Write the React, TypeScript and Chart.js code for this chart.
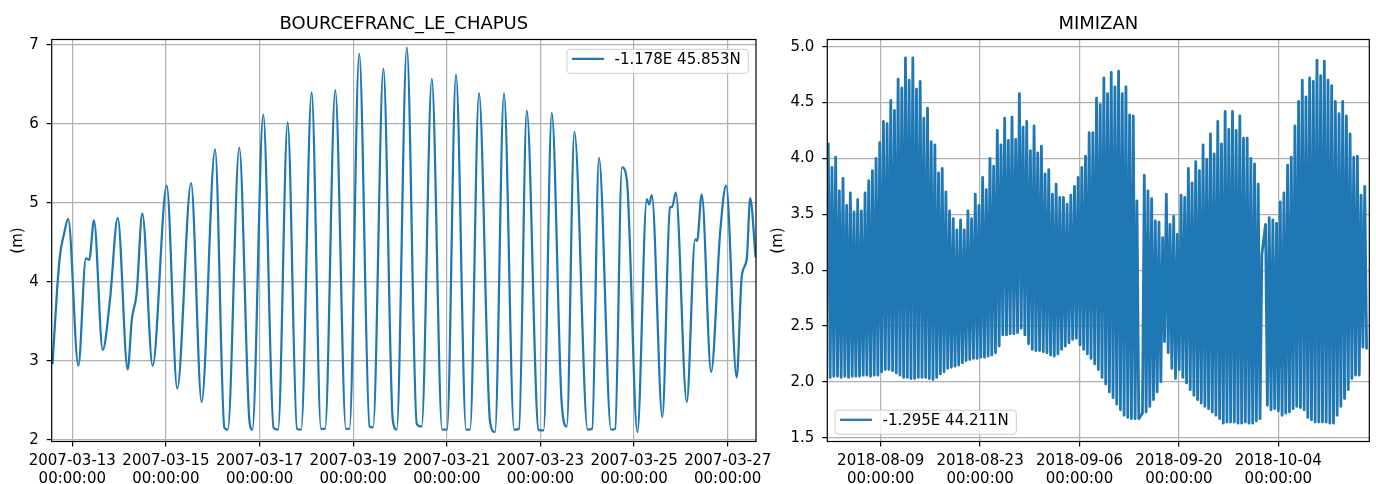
import React, { useEffect, useRef } from 'react';
import { Chart, registerables } from 'chart.js';

Chart.register(...registerables);

// ---------------- Left panel: BOURCEFRANC_LE_CHAPUS ----------------
const leftTitle = 'BOURCEFRANC_LE_CHAPUS';
const leftLegendLabel = '-1.178E 45.853N';
const leftStart = '2007-03-12T00:00:00Z';
// hours since 2007-03-12 00:00
const leftHours = [
  13.9, 16.2, 17.7, 19.7, 21.9, 27.1, 31.0, 32.7, 35.1, 39.6,
  43.3, 47.3, 52.4, 54.5, 57.0, 59.9, 65.2, 72.4, 77.8, 84.9,
  90.3, 97.2, 102.0, 103.7, 109.6, 114.9, 116.3, 121.9, 127.2, 129.5,
  134.4, 139.2, 141.3, 146.7, 151.5, 153.6, 158.8, 164.3, 166.1, 171.1,
  176.4, 178.2, 183.5, 188.3, 190.3, 195.5, 200.6, 203.1, 208.3, 213.6,
  216.1, 220.7, 225.9, 227.9, 232.5, 238.2, 240.7, 245.3, 250.5, 253.0,
  257.0, 263.0, 265.6, 269.8, 274.9, 277.5, 281.4, 288.2, 290.5, 294.0,
  300.2, 302.3, 305.8, 308.3, 313.7, 318.5, 319.7, 321.1, 326.5, 330.4,
  331.5, 333.4, 339.0, 343.3, 344.3, 346.7, 351.5, 356.1, 359.2, 364.6,
  367.2, 369.8, 371.5, 374.3,
];
const leftLevels = [
  2.97, 3.90, 4.34, 4.60, 4.80, 2.94, 4.30, 4.28, 4.78, 3.14,
  3.77, 4.81, 2.89, 3.52, 3.86, 4.87, 2.94, 5.22, 2.65, 5.25,
  2.48, 5.68, 2.15, 2.13, 5.70, 2.22, 2.13, 6.12, 2.15, 2.13,
  6.02, 2.14, 2.13, 6.40, 2.14, 2.14, 6.43, 2.14, 2.14, 6.89,
  2.17, 2.16, 6.70, 2.25, 2.13, 6.97, 2.20, 2.17, 6.57, 2.13,
  2.13, 6.63, 2.13, 2.13, 6.39, 2.22, 2.10, 6.39, 2.13, 2.14,
  6.17, 2.13, 2.12, 6.14, 2.46, 2.17, 5.90, 2.13, 2.14, 5.57,
  2.13, 2.14, 5.45, 5.29, 2.10, 5.05, 4.98, 5.10, 2.29, 4.94,
  4.95, 5.13, 2.48, 4.54, 4.52, 5.11, 2.86, 4.62, 5.22, 2.79,
  4.07, 4.30, 5.06, 4.32,
];
const leftXTickLabels = [
  '2007-03-13', '2007-03-15', '2007-03-17', '2007-03-19',
  '2007-03-21', '2007-03-23', '2007-03-25', '2007-03-27',
];
const leftYTicks = [2, 3, 4, 5, 6, 7];
const leftXRange = [13.44, 374.5];
const leftYRange = [1.98, 7.07];

// ---------------- Right panel: MIMIZAN ----------------
const rightTitle = 'MIMIZAN';
const rightLegendLabel = '-1.295E 44.211N';
const rightStart = '2018-08-01T00:00:00Z';
const mimizanFirstHighHour = 14.9; // hours since 2018-08-01 00:00
const mimizanTidePeriodHours = 12.42;
// successive high waters (null = missing record)
const mimizanHighs = [
  4.13, 3.92, 4.01, 3.71, 3.82, 3.58, 3.69, 3.52, 3.63, 3.53,
  3.69, 3.80, 3.89, 4.00, 4.14, 4.33, 4.31, 4.52, 4.43, 4.71,
  4.63, 4.90, 4.70, 4.90, 4.62, 4.69, 4.36, 4.45, 4.15, 4.12,
  3.87, 3.91, 3.70, 3.53, 3.46, 3.36, 3.45, 3.36, 3.53, 3.46,
  3.68, 3.58, 3.83, 3.72, 4.00, 3.93, 4.25, 4.12, 4.36, 4.16,
  4.37, 4.17, 4.58, 4.28, 4.33, 4.07, 4.29, 4.05, 4.11, 3.86,
  3.90, 3.68, 3.77, 3.65, 3.65, 3.59, 3.67, 3.75, 3.83, 3.92,
  4.02, 4.23, 4.23, 4.54, 4.48, 4.72, 4.58, 4.77, 4.64, 4.78,
  4.58, 4.64, 4.39, 4.38, 3.62, null, 3.85, 3.71, 3.64, 3.44,
  3.43, 3.29, 3.68, 3.41, 3.48, 3.32, 3.67, 3.65, 3.91, 3.78,
  3.97, 3.89, 4.12, 3.99, 4.22, 4.04, 4.33, 4.13, 4.42, 4.26,
  4.42, 4.25, 4.38, 4.18, 4.18, 4.00, 3.95, 3.77, 3.14, 3.41,
  3.47, 3.45, 3.42, 3.61, 3.69, 3.94, 4.01, 4.29, 4.51, 4.70,
  4.55, 4.72, 4.69, 4.88, 4.74, 4.87, 4.70, 4.65, 4.51, 4.40,
  4.51, 4.38, 4.22, 4.01, 4.02, 3.67, 3.75,
];
// low water following each high water
const mimizanLows = [
  2.04, 2.05, 2.05, 2.04, 2.05, 2.04, 2.05, 2.05, 2.05, 2.06,
  2.06, 2.05, 2.06, 2.06, 2.09, 2.11, 2.11, 2.10, 2.08, 2.06,
  2.04, 2.04, 2.03, 2.03, 2.04, 2.04, 2.04, 2.03, 2.02, 2.04,
  2.07, 2.09, 2.12, 2.13, 2.14, 2.15, 2.17, 2.19, 2.20, 2.21,
  2.21, 2.22, 2.22, 2.23, 2.24, 2.26, 2.32, 2.42, 2.42, 2.43,
  2.43, 2.44, 2.48, 2.42, 2.34, 2.29, 2.28, 2.28, 2.27, 2.26,
  2.24, 2.23, 2.25, 2.29, 2.32, 2.35, 2.38, 2.39, 2.33, 2.29,
  2.25, 2.21, 2.16, 2.11, 2.04, 1.98, 1.91, 1.86, 1.80, 1.75,
  1.70, 1.68, 1.67, 1.67, 1.67, 1.72, 1.73, 1.78, 1.84, 1.91,
  2.00, 2.36, 2.26, 2.12, 2.03, 2.11, 2.04, 1.99, 1.93, 1.88,
  1.84, 1.81, 1.78, 1.76, 1.73, 1.70, 1.67, 1.63, 1.64, 1.64,
  1.64, 1.63, 1.63, 1.64, 1.63, 1.63, 1.65, 1.67, null, 1.79,
  1.75, 1.76, 1.74, 1.70, 1.72, 1.73, 1.76, 1.78, 1.77, 1.75,
  1.68, 1.66, 1.64, 1.64, 1.64, 1.64, 1.63, 1.63, 1.70, 1.78,
  1.85, 1.93, 2.03, 2.06, 2.06, 2.31, 2.30,
];
const rightXTickLabels = ['2018-08-09', '2018-08-23', '2018-09-06', '2018-09-20', '2018-10-04'];
const rightYTicks = [1.5, 2.0, 2.5, 3.0, 3.5, 4.0, 4.5, 5.0];
const rightXRange = [11.5, 1843.6];
const rightYRange = [1.466, 5.064];

const tickTimeLabel = '00:00:00';
const yAxisLabel = '(m)';

// ---------------- helpers ----------------
const FONT = '"DejaVu Sans", "Liberation Sans", sans-serif';
const LINE_COLOR = '#1f77b4';

function hoursSince(start: string, day: string): number {
  return (Date.parse(day + 'T00:00:00Z') - Date.parse(start)) / 3600000;
}

const overlayPlugin = {
  id: 'overlay',
  afterDatasetsDraw(chart: any, _args: any, o: any) {
    const { ctx, chartArea: a } = chart;
    ctx.save();
    // frame (spines)
    ctx.strokeStyle = '#000';
    ctx.lineWidth = 1.2;
    ctx.strokeRect(a.left, a.top, a.right - a.left, a.bottom - a.top);
    // title
    ctx.fillStyle = '#000';
    ctx.font = `18px ${FONT}`;
    ctx.textAlign = 'center';
    ctx.textBaseline = 'alphabetic';
    ctx.fillText(o.title, (a.left + a.right) / 2, 29.3);
    // y label
    ctx.save();
    ctx.translate(o.ylabelX, (a.top + a.bottom) / 2);
    ctx.rotate(-Math.PI / 2);
    ctx.font = `15px ${FONT}`;
    ctx.textAlign = 'center';
    ctx.textBaseline = 'alphabetic';
    ctx.fillText(yAxisLabel, 0, 0);
    ctx.restore();
    // legend
    ctx.font = `15px ${FONT}`;
    const tw = ctx.measureText(o.legend).width;
    const boxW = 47.5 + tw + 7.5;
    const boxH = 24;
    let bx: number, by: number;
    if (o.legendCorner === 'upper right') {
      bx = a.right - 7.7 - boxW;
      by = a.top + 9.8;
    } else {
      bx = a.left + 7.7;
      by = a.bottom - 7.3 - boxH;
    }
    ctx.beginPath();
    const r = 3;
    ctx.moveTo(bx + r, by);
    ctx.lineTo(bx + boxW - r, by);
    ctx.arcTo(bx + boxW, by, bx + boxW, by + r, r);
    ctx.lineTo(bx + boxW, by + boxH - r);
    ctx.arcTo(bx + boxW, by + boxH, bx + boxW - r, by + boxH, r);
    ctx.lineTo(bx + r, by + boxH);
    ctx.arcTo(bx, by + boxH, bx, by + boxH - r, r);
    ctx.lineTo(bx, by + r);
    ctx.arcTo(bx, by, bx + r, by, r);
    ctx.closePath();
    ctx.fillStyle = 'rgba(255,255,255,0.8)';
    ctx.fill();
    ctx.strokeStyle = '#cccccc';
    ctx.lineWidth = 1;
    ctx.stroke();
    ctx.beginPath();
    ctx.strokeStyle = LINE_COLOR;
    ctx.lineWidth = 2.25;
    ctx.moveTo(bx + 5, by + 9.6);
    ctx.lineTo(bx + 37, by + 9.6);
    ctx.stroke();
    ctx.fillStyle = '#000';
    ctx.textAlign = 'left';
    ctx.textBaseline = 'alphabetic';
    ctx.fillText(o.legend, bx + 47.5, by + 15);
    ctx.restore();
  },
};

function makeConfig(p: any): any {
  const xTickValues = p.xTickLabels.map((d: string) => hoursSince(p.start, d));
  return {
    type: 'line',
    data: {
      datasets: [
        {
          data: p.points,
          borderColor: LINE_COLOR,
          borderWidth: p.lineWidth,
          pointRadius: 0,
          pointHoverRadius: 0,
          fill: false,
          spanGaps: true,
          tension: 0,
          cubicInterpolationMode: p.smooth ? 'monotone' : 'default',
          borderJoinStyle: 'round',
          borderCapStyle: 'round',
        },
      ],
    },
    options: {
      animation: false,
      responsive: false,
      devicePixelRatio: 1,
      events: [],
      layout: { padding: p.padding },
      plugins: {
        legend: { display: false },
        title: { display: false },
        tooltip: { enabled: false },
        overlay: {
          title: p.title,
          legend: p.legend,
          legendCorner: p.legendCorner,
          ylabelX: p.ylabelX,
        },
      },
      scales: {
        x: {
          type: 'linear',
          min: p.xRange[0],
          max: p.xRange[1],
          afterBuildTicks: (s: any) => {
            s.ticks = xTickValues.map((v: number) => ({ value: v }));
          },
          afterFit: (s: any) => {
            s.height = 42.5;
          },
          ticks: {
            autoSkip: false,
            maxRotation: 0,
            minRotation: 0,
            padding: 5.5,
            color: '#000',
            font: { family: FONT, size: 15, lineHeight: 1.2 },
            callback: (_v: any, i: number) => [p.xTickLabels[i], tickTimeLabel],
          },
          grid: {
            color: '#b0b0b0',
            lineWidth: 1.2,
            tickColor: '#000',
            tickLength: 5,
            tickWidth: 1.2,
          },
          border: { display: false },
        },
        y: {
          type: 'linear',
          min: p.yRange[0],
          max: p.yRange[1],
          afterBuildTicks: (s: any) => {
            s.ticks = p.yTicks.map((v: number) => ({ value: v }));
          },
          afterFit: (s: any) => {
            s.width = p.yWidth;
          },
          ticks: {
            autoSkip: false,
            padding: 8,
            color: '#000',
            font: { family: FONT, size: 15 },
            callback: (v: number) => p.yFmt(v),
          },
          grid: {
            color: '#b0b0b0',
            lineWidth: 1.2,
            tickColor: '#000',
            tickLength: 5,
            tickWidth: 1.2,
          },
          border: { display: false },
        },
      },
    },
    plugins: [overlayPlugin],
  };
}

export default function App() {
  const leftRef = useRef<HTMLCanvasElement>(null);
  const rightRef = useRef<HTMLCanvasElement>(null);

  useEffect(() => {
    const leftPoints = leftHours.map((h, i) => ({ x: h, y: leftLevels[i] }));
    const rightPoints: { x: number; y: number | null }[] = [];
    mimizanHighs.forEach((hv, i) => {
      const t = mimizanFirstHighHour + i * mimizanTidePeriodHours;
      rightPoints.push({ x: t, y: hv });
      rightPoints.push({ x: t + mimizanTidePeriodHours / 2, y: mimizanLows[i] });
    });

    const c1 = new Chart(
      leftRef.current as HTMLCanvasElement,
      makeConfig({
        points: leftPoints,
        start: leftStart,
        xTickLabels: leftXTickLabels,
        yTicks: leftYTicks,
        xRange: leftXRange,
        yRange: leftYRange,
        yFmt: (v: number) => String(Math.round(v)),
        padding: { left: 0, top: 39.5, right: 1376 - 756, bottom: 0 },
        yWidth: 51.7,
        title: leftTitle,
        legend: leftLegendLabel,
        legendCorner: 'upper right',
        ylabelX: 21.5,
        smooth: true,
        lineWidth: 2.25,
      })
    );
    const c2 = new Chart(
      rightRef.current as HTMLCanvasElement,
      makeConfig({
        points: rightPoints,
        start: rightStart,
        xTickLabels: rightXTickLabels,
        yTicks: rightYTicks,
        xRange: rightXRange,
        yRange: rightYRange,
        yFmt: (v: number) => v.toFixed(1),
        padding: { left: 767.3, top: 39.5, right: 1376 - 1369.3, bottom: 0 },
        yWidth: 60,
        title: rightTitle,
        legend: rightLegendLabel,
        legendCorner: 'lower left',
        ylabelX: 782,
        smooth: false,
        lineWidth: 2.8,
      })
    );
    return () => {
      c1.destroy();
      c2.destroy();
    };
  }, []);

  const canvasStyle: React.CSSProperties = { position: 'absolute', left: 0, top: 0 };
  return (
    <div style={{ position: 'absolute', left: 0, top: 0, width: 1376, height: 484, background: '#fff' }}>
      <canvas ref={leftRef} width={1376} height={484} style={canvasStyle} />
      <canvas ref={rightRef} width={1376} height={484} style={canvasStyle} />
    </div>
  );
}
